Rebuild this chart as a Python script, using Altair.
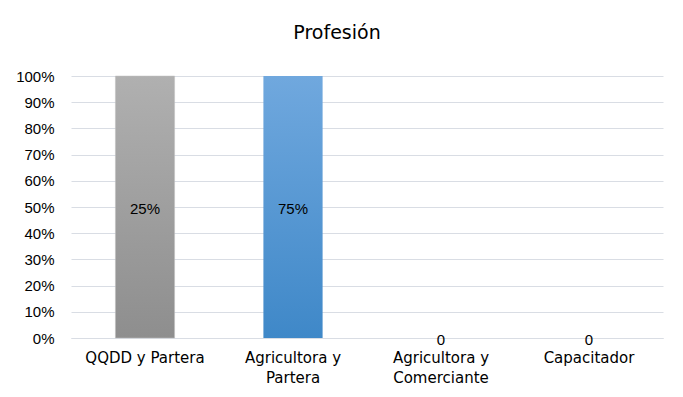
import altair as alt
import pandas as pd

categories = ["QQDD y Partera", "Agricultora y Partera", "Agricultora y Comerciante", "Capacitador"]
axis_lines = [["QQDD y Partera"], ["Agricultora y", "Partera"], ["Agricultora y", "Comerciante"], ["Capacitador"]]
bar_values = [1.0, 1.0, 0.0, 0.0]
label_text = ["25%", "75%", "0", "0"]
label_pos = [0.5, 0.5, 0.0, 0.0]
y_ticks = [0.0, 0.1, 0.2, 0.3, 0.4, 0.5, 0.6, 0.7, 0.8, 0.9, 1.0]

df = pd.DataFrame({"cat": categories, "val": bar_values, "lab": label_text, "pos": label_pos})

expr = "''"
for c, lines in reversed(list(zip(categories, axis_lines))):
    arr = "[" + ",".join("'" + l + "'" for l in lines) + "]"
    expr = f"datum.value == '{c}' ? {arr} : ({expr})"

FONT = "DejaVu Sans"

x = alt.X("cat:N", sort=categories, title=None,
          scale=alt.Scale(paddingInner=0.6, paddingOuter=0.3),
          axis=alt.Axis(labelAngle=0, labelExpr=expr, ticks=False, domain=True,
                        domainColor="#d9dde4", labelFontSize=15, labelColor="#000",
                        labelFont=FONT, labelPadding=12, labelLineHeight=20))
yaxis = alt.Axis(format=".0%", values=y_ticks, ticks=False, tickCount=11,
                 domain=False, gridColor="#d9dde4", labelFontSize=15,
                 labelColor="#000", labelFont="Liberation Sans", labelPadding=17,
                 labelOverlap=False)
yscale = alt.Scale(domain=[0, 1])

base = alt.Chart(df)

gray = base.transform_filter(alt.datum.cat == categories[0]).mark_bar(
    color=alt.Gradient(gradient="linear", x1=0, x2=0, y1=0, y2=1,
                       stops=[alt.GradientStop(color="#b0b0b0", offset=0),
                              alt.GradientStop(color="#8e8e8e", offset=1)]),
    stroke="#c0c0c0", strokeWidth=0.5
).encode(x=x, y=alt.Y("val:Q", title=None, scale=yscale, axis=yaxis))

blue = base.transform_filter(alt.datum.cat == categories[1]).mark_bar(
    color=alt.Gradient(gradient="linear", x1=0, x2=0, y1=0, y2=1,
                       stops=[alt.GradientStop(color="#70a8de", offset=0),
                              alt.GradientStop(color="#3f88c8", offset=1)]),
).encode(x=x, y=alt.Y("val:Q", title=None, scale=yscale, axis=yaxis))

text = base.mark_text(fontSize=15, font="Liberation Sans", color="#000", baseline="middle", dy=2).encode(
    x=x,
    y=alt.Y("pos:Q", title=None, scale=yscale, axis=yaxis),
    text="lab:N")

chart = alt.layer(gray, blue, text).properties(
    width=592, height=262,
    title=alt.TitleParams("Profesión", fontSize=19, font=FONT, fontWeight="normal",
                          color="#000", offset=26, dx=-30),
    background="white",
    padding={"top": 16, "left": 7, "right": 5, "bottom": 5},
).configure_view(stroke=None)

chart.save("out.html", embed_options={"renderer": "svg", "actions": False})
